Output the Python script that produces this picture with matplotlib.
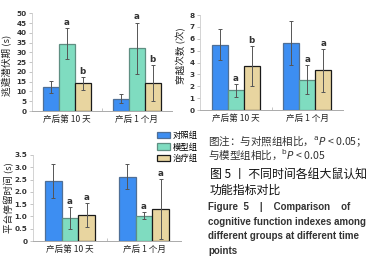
import numpy as np
import matplotlib
matplotlib.use('Agg')
import matplotlib.pyplot as plt
from matplotlib.ticker import FuncFormatter

plt.rcParams['font.family'] = ['Noto Sans CJK SC', 'DejaVu Sans']
plt.rcParams['axes.unicode_minus'] = False

# data
groups = ['对照组', '模型组', '治疗组']
timepoints = ['产后第 10 天', '产后 1 个月']
colors = ['#3d8ef2', '#7fdcc0', '#e8d5a0']
edges = ['#4f6f96', '#5f8f82', '#1a1a1a']

# 逃避潜伏期 (s): rows = groups, cols = timepoints
latency = np.array([[12.3, 6.4], [34.5, 32.0], [14.3, 14.5]])
latency_err = np.array([[3.0, 2.2], [8.0, 13.3], [3.3, 9.2]])
latency_marks = [['', ''], ['a', 'a'], ['b', 'b']]

# 穿越次数 (次)
crossings = np.array([[5.5, 5.65], [1.65, 2.55], [3.7, 3.35]])
crossings_err = np.array([[1.3, 1.85], [0.53, 1.2], [1.67, 1.8]])
crossings_marks = [['', ''], ['a', 'a'], ['b', 'a']]

# 平台停留时间 (s)
platform = np.array([[2.45, 2.62], [0.93, 1.03], [1.06, 1.31]])
platform_err = np.array([[0.68, 0.52], [0.45, 0.13], [0.5, 1.22]])
platform_marks = [['', ''], ['a', 'a'], ['a', 'a']]

fig = plt.figure(figsize=(3.73, 2.64), dpi=100)
ax1 = fig.add_axes([0.0858, 0.5795, 0.3753, 0.370])
ax2 = fig.add_axes([0.5362, 0.5833, 0.3834, 0.3598])
ax3 = fig.add_axes([0.0885, 0.0871, 0.3968, 0.3258])

w = 0.225
x = np.arange(len(timepoints))


def draw(ax, vals, errs, marks, ymax, step, ylabel, lab_xy, fmt=None):
    bars = []
    for i in range(len(groups)):
        b = ax.bar(x + (i - 1) * w, vals[i], w, color=colors[i], edgecolor=edges[i],
                   linewidth=0.9, label=groups[i], zorder=2)
        bars.append(b)
        ax.errorbar(x + (i - 1) * w, vals[i], yerr=errs[i], fmt='none', ecolor='#555555',
                    elinewidth=0.7, capsize=1.5, capthick=0.7, zorder=3)
        for j in range(len(timepoints)):
            if marks[i][j]:
                ax.annotate(marks[i][j], (x[j] + (i - 1) * w, vals[i][j] + errs[i][j]),
                            xytext=(0, 4), textcoords='offset points', ha='center',
                            va='center', fontsize=6.3, fontweight='bold', color='#333333',
                            family='DejaVu Sans')
    ax.set_xlim(-0.5, 1.5)
    ax.set_ylim(0, ymax)
    ax.set_yticks(np.arange(0, ymax + step / 2, step))
    if fmt:
        ax.yaxis.set_major_formatter(FuncFormatter(fmt))
    ax.set_xticks(x)
    ax.set_xticklabels(timepoints, fontsize=6.2, color='#222222')
    ax.set_xticks([0.5], minor=True)
    ax.tick_params(axis='x', which='major', length=0, pad=3)
    ax.tick_params(axis='x', which='minor', length=2, direction='in', color='#bbbbbb')
    ax.tick_params(axis='y', length=2, width=0.6, color='#bbbbbb', labelsize=5.2,
                   labelcolor='#333333', pad=2)
    for lab in ax.get_yticklabels():
        lab.set_family('DejaVu Sans')
        lab.set_fontweight('bold')
    for s in ['top', 'right']:
        ax.spines[s].set_visible(False)
    ax.spines['left'].set_color('#cccccc')
    ax.spines['left'].set_linewidth(0.6)
    ax.spines['bottom'].set_color('#aaaaaa')
    ax.spines['bottom'].set_linewidth(0.7)
    ax.set_ylabel(ylabel, fontsize=6.9, color='#222222')
    ax.yaxis.set_label_coords(*lab_xy)
    return bars


draw(ax1, latency, latency_err, latency_marks, 50, 5, '逃避潜伏期 (s)', (-0.14, 0.47))
draw(ax2, crossings, crossings_err, crossings_marks, 8, 1, '穿越次数 (次)', (-0.098, 0.57))
bars = draw(ax3, platform, platform_err, platform_marks, 3.5, 0.5, '平台停留时间 (s)', (-0.13, 0.51),
            fmt=lambda v, p: '0' if v == 0 else f'{v:.1f}')

fig.legend(handles=bars, labels=groups, loc='upper left', bbox_to_anchor=(157 / 373, 1 - 131 / 264),
           frameon=False, fontsize=6, handlelength=1.6, handleheight=0.8, handletextpad=0.25,
           labelspacing=0.3, borderpad=0, borderaxespad=0)

# caption
cap_x = 208 / 373
fig.text(cap_x, 1 - 141 / 264, r'图注：与对照组相比，$^{\mathrm{a}}P$ < 0.05；', fontsize=7.6,
         va='center', color='#333333')
fig.text(cap_x, 1 - 155 / 264, r'与模型组相比，$^{\mathrm{b}}P$ < 0.05', fontsize=7.6,
         va='center', color='#333333')
fig.text(210 / 373, 1 - 174 / 264, '图 5 丨 不同时间各组大鼠认知', fontsize=8.6,
         va='center', color='#111111')
fig.text(210 / 373, 1 - 190 / 264, '功能指标对比', fontsize=8.6, va='center', color='#111111')
eng = ['Figure  5    |    Comparison    of', 'cognitive function indexes among',
       'different groups at different time', 'points']
for k, line in enumerate(eng):
    fig.text(cap_x, 1 - (207 + 14.7 * k) / 264, line, fontsize=7.0, fontweight='bold',
             family='Liberation Sans', va='center', color='#333333')

fig.savefig('out.png', dpi=100)
